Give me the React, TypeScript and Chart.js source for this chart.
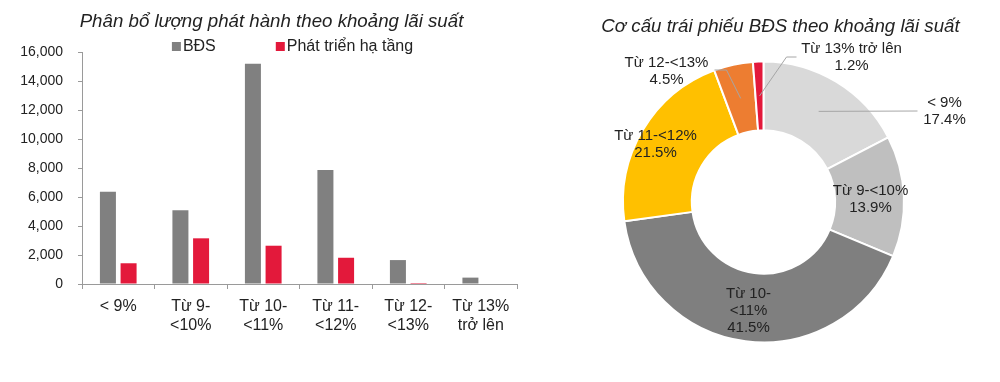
import React, { useEffect, useRef } from "react";
import { Chart, registerables } from "chart.js";

Chart.register(...registerables);

// ---------- data ----------
const categories: string[][] = [
  ["< 9%"],
  ["Từ 9-", "<10%"],
  ["Từ 10-", "<11%"],
  ["Từ 11-", "<12%"],
  ["Từ 12-", "<13%"],
  ["Từ 13%", "trở lên"],
];
const seriesNames = ["BĐS", "Phát triển hạ tầng"];
const bdsValues = [6370, 5090, 15190, 7870, 1650, 440];
const infraValues = [1430, 3150, 2640, 1810, 70, 0];
const yMin = 0;
const yMax = 16000;
const yStep = 2000;

const pieLabels: string[][] = [
  ["< 9%"],
  ["Từ 9-<10%"],
  ["Từ 10-", "<11%"],
  ["Từ 11-<12%"],
  ["Từ 12-<13%"],
  ["Từ 13% trở lên"],
];
const pieShares = [17.4, 13.9, 41.5, 21.5, 4.5, 1.2];

const barTitle = "Phân bổ lượng phát hành theo khoảng lãi suất";
const pieTitle = "Cơ cấu trái phiếu BĐS theo khoảng lãi suất";

// ---------- styles ----------
const FONT = "'Liberation Sans', Arial, sans-serif";
const TEXT = "#222222";
const AXIS = "#9a9a9a";
const barColors = ["#808080", "#e3193b"];
const pieColors = ["#d9d9d9", "#bfbfbf", "#7f7f7f", "#ffc000", "#ed7d31", "#e3193b"];

// label placement for the doughnut, in px relative to the doughnut centre
type Place = { dx: number; dy: number; leader?: number[][] };
const piePlacement: Place[] = [
  { dx: 181, dy: -91, leader: [[154, -91]] },
  { dx: 107, dy: -3 },
  { dx: -15, dy: 109 },
  { dx: -108, dy: -58 },
  { dx: -97, dy: -131, leader: [[-37, -132], [-49, -132]] },
  { dx: 88, dy: -145, leader: [[23, -145], [33, -145]] },
];

const barHeaderPlugin = {
  id: "barHeader",
  afterDraw(chart: any) {
    const ctx = chart.ctx as CanvasRenderingContext2D;
    const area = chart.chartArea;
    const mid = (area.left + area.right) / 2;
    ctx.save();
    ctx.fillStyle = TEXT;
    ctx.font = `italic 18.7px ${FONT}`;
    ctx.textAlign = "center";
    ctx.textBaseline = "middle";
    ctx.fillText(barTitle, mid - 28, 21.5);

    ctx.font = `16px ${FONT}`;
    ctx.textAlign = "left";
    const box = 9;
    const gap = 2;
    const spacing = 60;
    const items = chart.data.datasets.map((ds: any) => ({
      text: ds.label as string,
      color: ds.backgroundColor as string,
      w: ctx.measureText(ds.label).width,
    }));
    const total =
      items.reduce((s: number, it: any) => s + box + gap + it.w, 0) + spacing * (items.length - 1);
    let x = mid - 7 - total / 2;
    for (const it of items) {
      ctx.fillStyle = it.color;
      ctx.fillRect(x, 42, box, box);
      ctx.fillStyle = TEXT;
      ctx.fillText(it.text, x + box + gap, 47);
      x += box + gap + it.w + spacing;
    }
    ctx.restore();
  },
};

const pieLabelPlugin = {
  id: "pieLabels",
  afterDatasetsDraw(chart: any) {
    const ctx = chart.ctx as CanvasRenderingContext2D;
    const meta = chart.getDatasetMeta(0);
    ctx.save();
    // title
    ctx.fillStyle = TEXT;
    ctx.font = `italic 18.7px ${FONT}`;
    ctx.textAlign = "center";
    ctx.textBaseline = "middle";
    const first = meta.data[0];
    ctx.fillText(pieTitle, first.x + 17, 27);

    const lh = 17;
    meta.data.forEach((arc: any, i: number) => {
      const cx = arc.x;
      const cy = arc.y;
      const p = piePlacement[i];
      if (p.leader) {
        const start = arc.getCenterPoint();
        ctx.strokeStyle = "#a6a6a6";
        ctx.lineWidth = 1;
        ctx.beginPath();
        ctx.moveTo(start.x, start.y);
        for (const [lx, ly] of p.leader) ctx.lineTo(cx + lx, cy + ly);
        ctx.stroke();
      }
      const lines = [...pieLabels[i], pieShares[i].toFixed(1) + "%"];
      ctx.fillStyle = TEXT;
      ctx.font = `15px ${FONT}`;
      const x = cx + p.dx;
      const y0 = cy + p.dy - ((lines.length - 1) * lh) / 2;
      lines.forEach((t, k) => ctx.fillText(t, x, y0 + k * lh));
    });
    ctx.restore();
  },
};

export default function App() {
  const barRef = useRef<HTMLCanvasElement>(null);
  const pieRef = useRef<HTMLCanvasElement>(null);

  useEffect(() => {
    const bar = new Chart(barRef.current!, {
      type: "bar",
      data: {
        labels: categories,
        datasets: [
          {
            label: seriesNames[0],
            data: bdsValues,
            backgroundColor: barColors[0],
            categoryPercentage: 0.57,
            barPercentage: 0.775,
          },
          {
            label: seriesNames[1],
            data: infraValues,
            backgroundColor: barColors[1],
            categoryPercentage: 0.57,
            barPercentage: 0.775,
          },
        ],
      },
      options: {
        responsive: false,
        animation: false,
        layout: { padding: { top: 52, left: 0, right: 28, bottom: 0 } },
        plugins: {
          legend: { display: false },
          title: { display: false },
          tooltip: { enabled: false },
        },
        scales: {
          x: {
            afterFit: (s: any) => {
              s.height = 98;
            },
            grid: {
              display: true,
              drawOnChartArea: false,
              drawTicks: true,
              tickLength: 5,
              color: AXIS,
              offset: true,
            },
            border: { display: true, color: AXIS },
            ticks: {
              color: TEXT,
              font: { family: FONT, size: 16, lineHeight: 1.2 },
              padding: 8,
              maxRotation: 0,
              autoSkip: false,
            },
          },
          y: {
            min: yMin,
            max: yMax,
            afterFit: (s: any) => {
              s.width = 82;
            },
            grid: {
              display: true,
              drawOnChartArea: false,
              drawTicks: true,
              tickLength: 4,
              color: AXIS,
            },
            border: { display: true, color: AXIS },
            ticks: {
              stepSize: yStep,
              color: TEXT,
              font: { family: FONT, size: 14 },
              padding: 15,
              callback: (v: any) => Number(v).toLocaleString("en-US"),
            },
          },
        },
      },
      plugins: [barHeaderPlugin],
    });

    const pie = new Chart(pieRef.current!, {
      type: "doughnut",
      data: {
        labels: pieLabels.map((l) => l.join(" ")),
        datasets: [
          {
            data: pieShares,
            backgroundColor: pieColors,
            borderColor: "#ffffff",
            borderWidth: 2,
            hoverOffset: 0,
          },
        ],
      },
      options: {
        responsive: false,
        animation: false,
        cutout: "51%",
        rotation: 0,
        layout: { padding: { left: 77, right: 95, top: 60, bottom: 38 } },
        plugins: {
          legend: { display: false },
          title: { display: false },
          tooltip: { enabled: false },
        },
      },
      plugins: [pieLabelPlugin],
    });

    return () => {
      bar.destroy();
      pie.destroy();
    };
  }, []);

  return (
    <div
      style={{
        position: "fixed",
        left: 0,
        top: 0,
        width: 1000,
        height: 382,
        background: "#ffffff",
        overflow: "hidden",
      }}
    >
      <canvas
        ref={barRef}
        width={545}
        height={382}
        style={{ position: "absolute", left: 0, top: 0, width: 545, height: 382 }}
      />
      <canvas
        ref={pieRef}
        width={455}
        height={382}
        style={{ position: "absolute", left: 545, top: 0, width: 455, height: 382 }}
      />
    </div>
  );
}
